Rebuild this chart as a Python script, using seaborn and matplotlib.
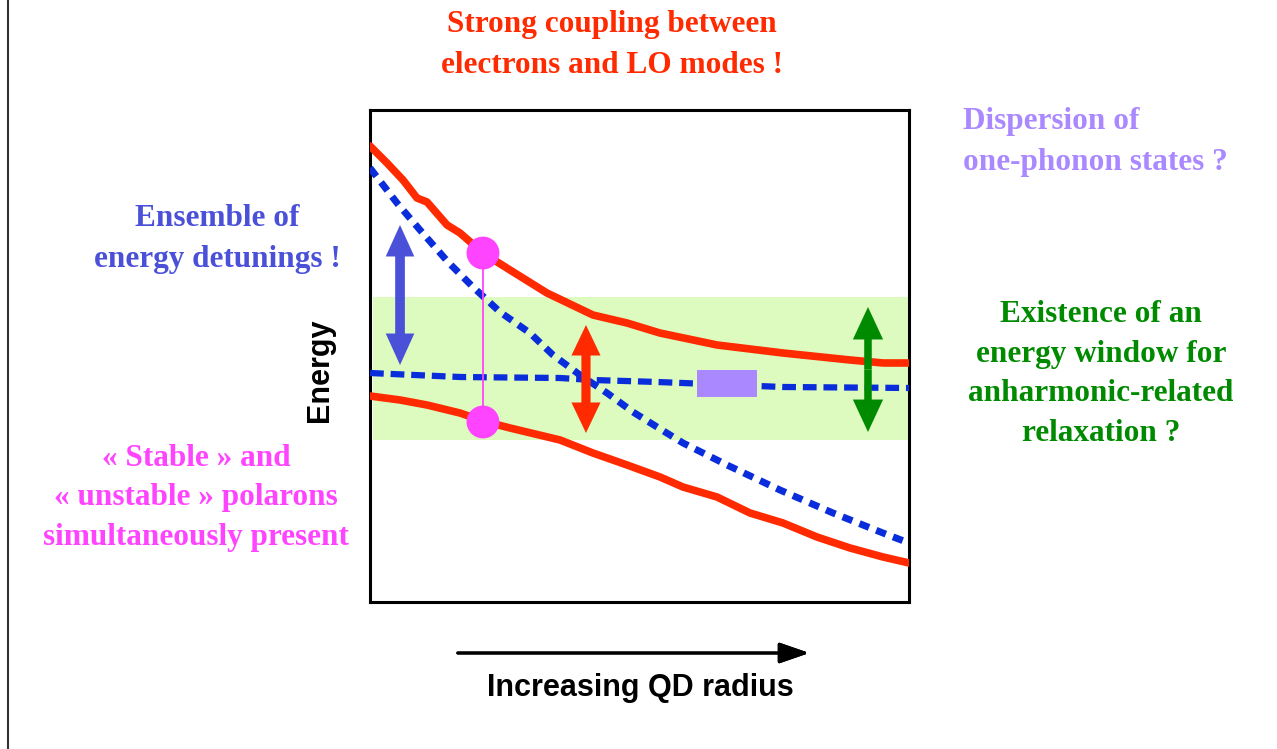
import pandas as pd
import matplotlib.pyplot as plt
import seaborn as sns
from matplotlib.lines import Line2D
from matplotlib.patches import Rectangle

# Schematic energy levels vs QD radius (arbitrary units, 0-10 on both axes)
upper_x = [0, 0.315, 0.612, 0.872, 1.058, 1.429, 1.670, 2.096, 2.597, 3.284, 4.137, 4.768, 5.380, 6.438, 7.662, 8.905, 9.518, 10.0]
upper_y = [9.268, 8.923, 8.577, 8.211, 8.130, 7.663, 7.500, 7.093, 6.748, 6.280, 5.833, 5.671, 5.467, 5.224, 5.061, 4.919, 4.858, 4.858]

lower_x = [0, 0.557, 1.058, 1.670, 2.096, 2.597, 3.525, 4.137, 4.768, 5.380, 5.807, 6.438, 7.050, 7.662, 8.293, 8.905, 9.518, 10.0]
lower_y = [4.187, 4.106, 4.004, 3.841, 3.679, 3.537, 3.293, 3.028, 2.785, 2.541, 2.337, 2.134, 1.809, 1.606, 1.321, 1.098, 0.915, 0.793]

diag_x = [0, 0.501, 0.928, 1.447, 1.911, 2.412, 2.968, 3.395, 3.896, 4.397, 4.879, 5.325, 5.807, 6.623, 7.607, 8.590, 9.518, 10.0]
diag_y = [8.821, 8.110, 7.561, 6.911, 6.402, 5.894, 5.467, 5.020, 4.614, 4.248, 3.862, 3.557, 3.232, 2.785, 2.276, 1.809, 1.402, 1.199]

flat_x = [0, 1.670, 3.525, 4.137, 5.325, 7.662, 10.0]
flat_y = [4.654, 4.573, 4.553, 4.512, 4.472, 4.370, 4.350]

# polaron points, energy window, one-phonon box
polaron_x = [2.096, 2.096]
polaron_y = [7.093, 3.659]
window = (3.293, 6.199)
phonon_box = (6.067, 4.167, 7.180, 4.715)

# double arrows: x, y_top, y_bottom
arrows = {
    'detuning': (0.557, 7.663, 4.817),
    'coupling': (4.007, 5.630, 3.435),
    'window': (9.239, 5.996, 3.455),
}

RED = '#ff2a00'
BLUE = '#0a2ddb'
ARROW_BLUE = '#4a50d8'
MAGENTA = '#ff44ff'
GREEN = '#008a00'
LAVENDER = '#aa88ff'

sns.set_style('white')

fig = plt.figure(figsize=(12.77, 7.49), dpi=100)
ax = fig.add_axes([370 / 1277, 147 / 749, 539 / 1277, 492 / 749])

ax.axhspan(window[0], window[1], xmin=0.006, xmax=1, color='#ddfabf', lw=0, zorder=0)

df_up = pd.DataFrame({'x': upper_x, 'y': upper_y})
df_lo = pd.DataFrame({'x': lower_x, 'y': lower_y})
df_dg = pd.DataFrame({'x': diag_x, 'y': diag_y})
df_fl = pd.DataFrame({'x': flat_x, 'y': flat_y})

sns.lineplot(data=df_fl, x='x', y='y', ax=ax, color=BLUE, lw=4.5, sort=False,
             zorder=3).lines[-1].set_dashes((2.2, 1.1))
sns.lineplot(data=df_dg, x='x', y='y', ax=ax, color=BLUE, lw=5, sort=False,
             zorder=3).lines[-1].set_dashes((1.5, 1.1))
sns.lineplot(data=df_up, x='x', y='y', ax=ax, color=RED, lw=5.5, sort=False, zorder=4)
sns.lineplot(data=df_lo, x='x', y='y', ax=ax, color=RED, lw=5.5, sort=False, zorder=4)

ax.add_patch(Rectangle((phonon_box[0], phonon_box[1]), phonon_box[2] - phonon_box[0],
                       phonon_box[3] - phonon_box[1], color=LAVENDER, lw=0, zorder=5))

ax.plot(polaron_x, polaron_y, color=MAGENTA, lw=1.3, zorder=5)
sns.scatterplot(x=polaron_x, y=polaron_y, ax=ax, color=MAGENTA, s=560, edgecolor='none', zorder=6)


def double_arrow(x, y0, y1, color, shaft, head_w, head_l):
    mid = (y0 + y1) / 2
    for end in (y0, y1):
        ax.arrow(x, mid, 0, end - mid, width=shaft, head_width=head_w, head_length=head_l,
                 length_includes_head=True, color=color, lw=0, zorder=6)


double_arrow(*arrows['detuning'], ARROW_BLUE, 0.18, 0.53, 0.64)
double_arrow(*arrows['coupling'], RED, 0.17, 0.54, 0.62)
double_arrow(*arrows['window'], GREEN, 0.14, 0.56, 0.66)

ax.set_xlim(0, 10)
ax.set_ylim(0, 10)
ax.set_xticks([])
ax.set_yticks([])
ax.set_xlabel('')
ax.set_ylabel('')
for s in ax.spines.values():
    s.set_visible(True)
    s.set_color('black')
    s.set_linewidth(2.2)

serif = dict(family='Liberation Serif', weight='bold', fontsize=22.5, linespacing=1.55)
fig.text(612 / 1277, 1 - 45 / 749, 'Strong coupling between\nelectrons and LO modes !',
         color=RED, ha='center', va='center', **serif)
fig.text(963 / 1277, 1 - 142 / 749, 'Dispersion of\none-phonon states ?',
         color=LAVENDER, ha='left', va='center', **serif)
fig.text(217 / 1277, 1 - 239 / 749, 'Ensemble of\nenergy detunings !',
         color=ARROW_BLUE, ha='center', va='center', multialignment='center', **serif)
fig.text(1101 / 1277, 1 - 374 / 749,
         'Existence of an\nenergy window for\nanharmonic-related\nrelaxation ?',
         color=GREEN, ha='center', va='center', multialignment='center',
         **{**serif, 'linespacing': 1.47})
fig.text(196 / 1277, 1 - 498 / 749,
         '« Stable » and\n« unstable » polarons\nsimultaneously present',
         color=MAGENTA, ha='center', va='center', multialignment='center',
         **{**serif, 'linespacing': 1.5})

sans = dict(family='Liberation Sans', weight='bold', fontsize=22)
fig.text(320 / 1277, 1 - 370 / 749, 'Energy', rotation=90, color='black',
         ha='center', va='center', **sans)
fig.text(640 / 1277, 1 - 688 / 749, 'Increasing QD radius', color='black',
         ha='center', va='center', **sans)

fig.add_artist(plt.annotate('', xy=(812 / 1277, 1 - 653 / 749), xytext=(455 / 1277, 1 - 653 / 749),
                            xycoords='figure fraction', textcoords='figure fraction',
                            arrowprops=dict(arrowstyle='-|>,head_length=1.3,head_width=0.45',
                                            mutation_scale=14, lw=2.2, color='black')))

fig.add_artist(Line2D([8 / 1277, 8 / 1277], [0, 1], color='#333333', lw=1.5))

fig.savefig('out.png', dpi=100, facecolor='white')
